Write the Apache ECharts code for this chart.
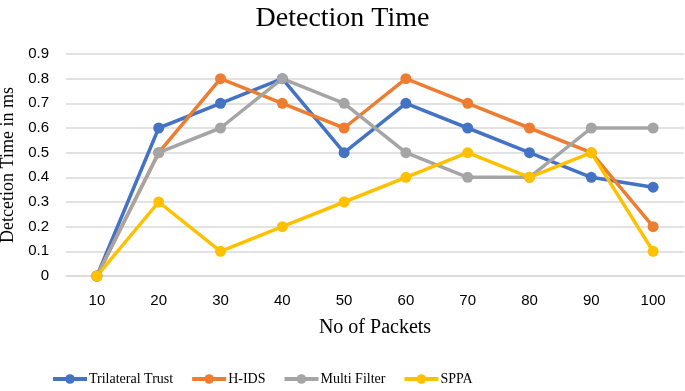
<!DOCTYPE html>
<html>
<head>
<meta charset="utf-8">
<script src="https://cdn.jsdelivr.net/npm/echarts@6/dist/echarts.min.js"></script>
<style>
  html, body { margin: 0; padding: 0; background: #fff; }
  #chart { width: 685px; height: 391px; }
</style>
</head>
<body>
<div id="chart"></div>
<script>
var packets = ['10', '20', '30', '40', '50', '60', '70', '80', '90', '100'];
var trilateralTrust = [0, 0.6, 0.7, 0.8, 0.5, 0.7, 0.6, 0.5, 0.4, 0.36];
var hIds = [0, 0.5, 0.8, 0.7, 0.6, 0.8, 0.7, 0.6, 0.5, 0.2];
var multiFilter = [0, 0.5, 0.6, 0.8, 0.7, 0.5, 0.4, 0.4, 0.6, 0.6];
var sppa = [0, 0.3, 0.1, 0.2, 0.3, 0.4, 0.5, 0.4, 0.5, 0.1];

var chart = echarts.init(document.getElementById('chart'));

function line(name, data, color) {
  return {
    name: name,
    type: 'line',
    data: data,
    symbol: 'circle',
    symbolSize: 11,
    lineStyle: { width: 3.5, color: color },
    itemStyle: { color: color },
    emphasis: { disabled: true }
  };
}

var option = {
  animation: false,
  backgroundColor: '#fff',
  title: {
    text: 'Detection Time',
    left: 'center',
    top: 0,
    textStyle: { fontFamily: 'Liberation Serif', fontSize: 28, fontWeight: 'normal', color: '#000' }
  },
  legend: {
    top: 367,
    left: 46,
    itemGap: 17,
    itemWidth: 34,
    itemHeight: 12,
    lineStyle: { width: 4 },
    textStyle: { fontFamily: 'Liberation Serif', fontSize: 14, color: '#000', padding: [0, 0, 0, -3] },
    data: ['Trilateral Trust', 'H-IDS', 'Multi Filter', 'SPPA']
  },
  grid: {
    left: 66,
    right: 1,
    top: 54,
    bottom: 115,
    outerBoundsMode: 'none'
  },
  xAxis: {
    type: 'category',
    data: packets,
    boundaryGap: true,
    name: 'No of Packets',
    nameLocation: 'middle',
    nameGap: 42,
    nameTextStyle: { fontFamily: 'Liberation Serif', fontSize: 20, color: '#000' },
    axisLine: { lineStyle: { color: '#d9d9d9', width: 1.5 } },
    axisTick: { show: false },
    axisLabel: { fontFamily: 'Liberation Sans', fontSize: 15, color: '#000', margin: 17 }
  },
  yAxis: {
    type: 'value',
    min: 0,
    max: 0.9,
    interval: 0.1,
    name: 'Detcetion Time in ms',
    nameLocation: 'middle',
    nameGap: 43,
    nameRotate: 90,
    nameTextStyle: { fontFamily: 'Liberation Serif', fontSize: 18, color: '#000' },
    axisLine: { show: false },
    axisTick: { show: false },
    splitLine: { lineStyle: { color: '#d9d9d9', width: 1.5 } },
    axisLabel: {
      fontFamily: 'Liberation Sans', fontSize: 15, color: '#000', margin: 17,
      formatter: function (v) { return Math.round(v * 10) / 10 + ''; }
    }
  },
  series: [
    line('Trilateral Trust', trilateralTrust, '#4472C4'),
    line('H-IDS', hIds, '#ED7D31'),
    line('Multi Filter', multiFilter, '#A5A5A5'),
    line('SPPA', sppa, '#FFC000')
  ]
};

chart.setOption(option);
</script>
</body>
</html>
